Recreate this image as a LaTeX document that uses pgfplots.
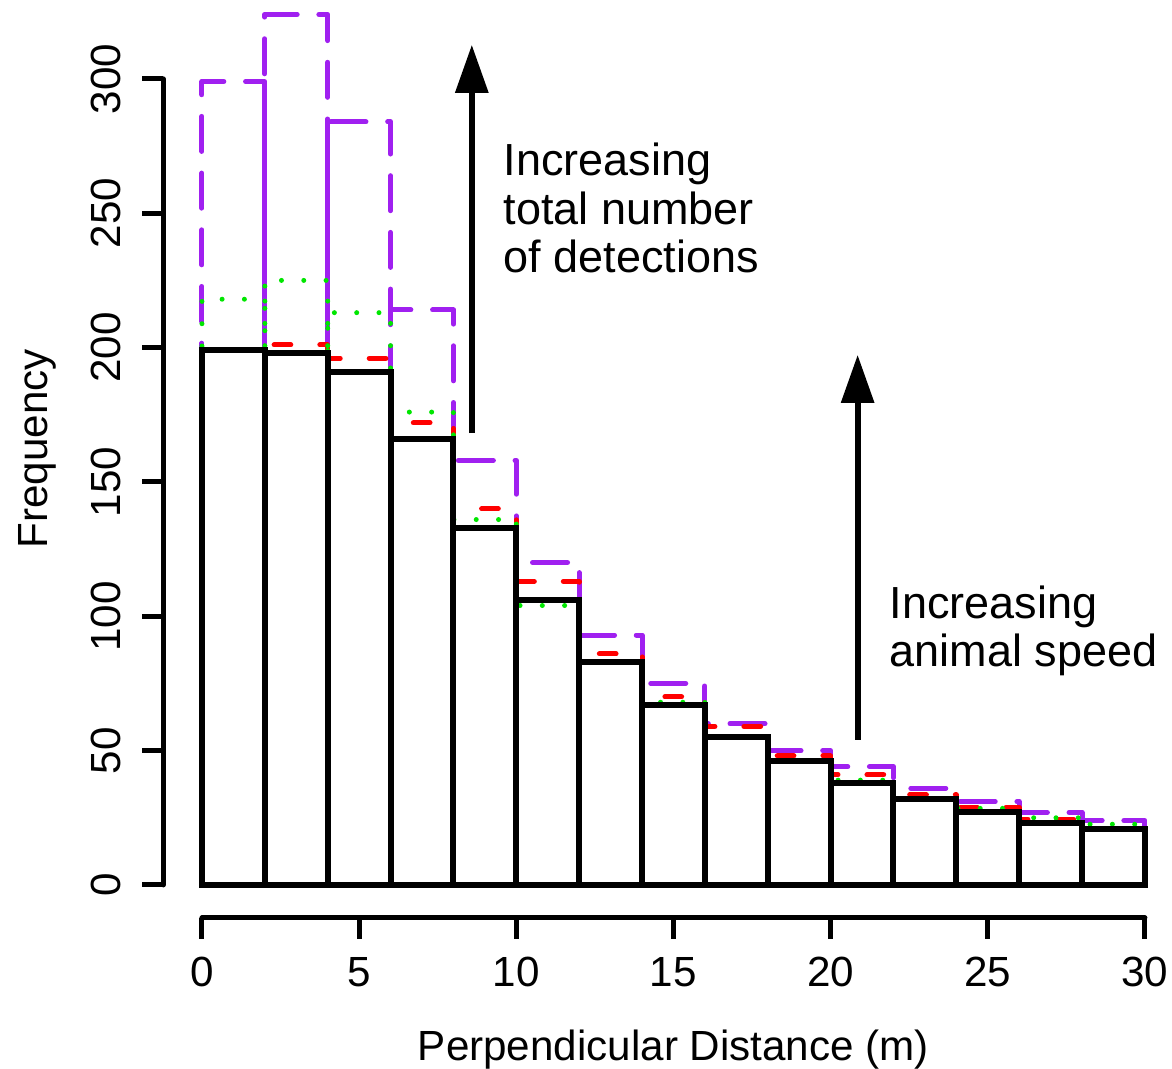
\documentclass[border=0pt]{standalone}
\usepackage{fontspec}
\setmainfont{Liberation Sans}
\usepackage{pgfplots}
\usepackage{pgfplotstable}
\pgfplotsset{compat=1.18}
\usetikzlibrary{arrows.meta}

\definecolor{rpurple}{HTML}{A020F0}
\definecolor{rred}{HTML}{FF0000}
\definecolor{rgreen}{HTML}{00E600}

% bin left edges (width 2 m); last row closes the final interval
\pgfplotstableread{
x   black red  green purple
0   199   199  218   299
2   198   201  225   324
4   191   196  213   284
6   166   172  176   214
8   133   140  136   158
10  106   113  104   120
12  83    86   83    93
14  67    70   68    75
16  55    59   55    60
18  46    48   46    50
20  38    41   39    44
22  32    33.5 32    36
24  27    29   28.5  31
26  23    24.5 25    27
28  21    21   22.6  24
30  0     0    0     0
}\hist

\begin{document}
\begin{tikzpicture}
\begin{axis}[
    at={(1.63cm,1.50cm)}, anchor=south west,
    scale only axis,
    width=9.819cm, height=9.170cm,
    xmin=-1.24, xmax=30, ymin=-12.3, ymax=329,
    clip=false,
    axis lines*=left,
    axis line style={line width=0.05cm, line cap=round},
    x axis line style={shorten <=0.3897cm},
    y axis line style={shorten <=0.3305cm, shorten >=0.7791cm},
    xtick={0,5,...,30}, ytick={0,50,...,300},
    minor tick num=0,
    tick align=outside,
    major tick length=0.21cm,
    every tick/.style={black, line width=0.05cm},
    /pgf/number format/assume math mode=true,
    tick label style={font=\fontsize{12}{14}\selectfont},
    xticklabel style={anchor=base, yshift=-0.48cm},
    yticklabel style={xshift=-0.22cm, rotate=90, anchor=base},
    every axis x label/.style={at={(axis description cs:0.5198,-0.1549)}, anchor=base, font=\fontsize{12}{14}\selectfont},
    every axis y label/.style={at={(axis description cs:-0.1181,0.5115)}, rotate=90, anchor=base, font=\fontsize{12}{14}\selectfont},
    xlabel={Perpendicular Distance (m)},
    ylabel={Frequency},
]

\addplot[ybar interval, draw=rpurple, fill=none, line width=0.05cm, line cap=round, line join=round,
    dash pattern=on 0.35cm off 0.217cm] table[x=x, y=purple] {\hist};
\addplot[ybar interval, draw=rred, fill=none, line width=0.05cm, line cap=round, line join=round,
    dash pattern=on 0.167cm off 0.29cm] table[x=x, y=red] {\hist};
\addplot[ybar interval, draw=rgreen, fill=none, line width=0.05cm, line cap=round, line join=round,
    dash pattern=on 0pt off 0.223cm] table[x=x, y=green] {\hist};
\addplot[ybar interval, draw=black, fill=none, line width=0.06cm] table[x=x, y=black] {\hist};

% annotations
\draw[line width=0.06cm, -{Triangle[length=0.48cm, width=0.32cm]}] (axis cs:8.585,168.2) -- (axis cs:8.585,312.7);
\draw[line width=0.06cm, -{Triangle[length=0.48cm, width=0.32cm]}] (axis cs:20.86,54) -- (axis cs:20.86,197.3);

\begin{scope}[every node/.style={anchor=base west, inner sep=0pt, font=\fontsize{12.8}{14}\selectfont}]
\node at (axis cs:9.577,263.9) {Increasing};
\node at (axis cs:9.577,245.8) {total number};
\node at (axis cs:9.577,227.8) {of detections};
\node at (axis cs:21.86,99.3) {Increasing};
\node at (axis cs:21.86,81.2) {animal speed};
\end{scope}
\end{axis}
\pgfresetboundingbox
\useasboundingbox (0,0) rectangle (11.72,10.68);
\end{tikzpicture}
\end{document}
